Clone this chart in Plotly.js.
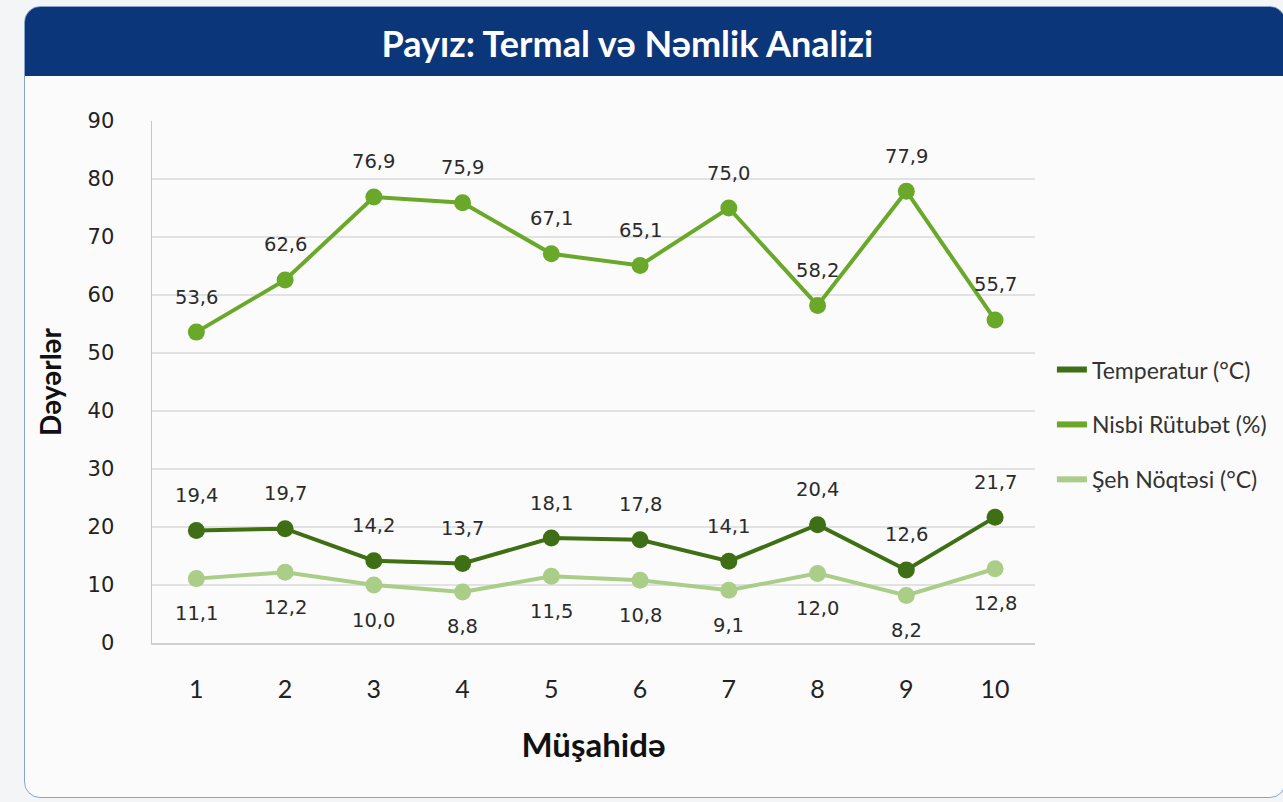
<!DOCTYPE html>
<html>
<head>
<meta charset="utf-8">
<script src="https://cdn.plot.ly/plotly-3.0.1.min.js"></script>
<style>
  html, body { margin:0; padding:0; width:1283px; height:802px; background:#f4f5f7; overflow:hidden; }
  #card { position:absolute; left:24px; top:6px; width:1262px; height:792px; background:#fbfbfb;
          border:1.5px solid #8aa3cc; border-radius:16px; box-sizing:border-box; overflow:hidden; }
  #band { position:absolute; left:0; top:0; width:100%; height:69px; background:#0b3679; }
  #chart { position:absolute; left:0; top:0; width:1283px; height:802px; }
</style>
</head>
<body>
<div id="card"><div id="band"></div></div>
<div id="chart"></div>
<script>
const observations = [1, 2, 3, 4, 5, 6, 7, 8, 9, 10];
const temperature = [19.4, 19.7, 14.2, 13.7, 18.1, 17.8, 14.1, 20.4, 12.6, 21.7];
const humidity    = [53.6, 62.6, 76.9, 75.9, 67.1, 65.1, 75.0, 58.2, 77.9, 55.7];
const dewPoint    = [11.1, 12.2, 10.0, 8.8, 11.5, 10.8, 9.1, 12.0, 8.2, 12.8];
const seriesNames = ['Temperatur (°C)', 'Nisbi Rütubət (%)', 'Şeh Nöqtəsi (°C)'];
const colors = ['#3e6f14', '#6aa829', '#aacd88'];

const fmt = v => v.toFixed(1).replace('.', ',');

function dataTrace(y, color) {
  return { x: observations, y: y, type: 'scatter', mode: 'lines+markers',
           line: { color: color, width: 4 }, marker: { color: color, size: 17 },
           showlegend: false, hoverinfo: 'x+y' };
}
function legendTrace(name, color, i) {
  return { x: [null], y: [null], type: 'scatter', mode: 'lines', name: name,
           legendgroup: 'g' + i, line: { color: color, width: 6 }, showlegend: true };
}

const traces = [
  dataTrace(dewPoint, colors[2]),
  dataTrace(temperature, colors[0]),
  dataTrace(humidity, colors[1]),
  legendTrace(seriesNames[0], colors[0], 0),
  legendTrace(seriesNames[1], colors[1], 1),
  legendTrace(seriesNames[2], colors[2], 2)
];

const labelFont = { family: 'DejaVu Sans', size: 19.5, color: '#2b2b2b' };
const annotations = [];
function addLabels(y, shift) {
  observations.forEach((xv, i) => {
    annotations.push({ x: xv, y: y[i], xref: 'x', yref: 'y', text: fmt(y[i]),
                       showarrow: false, yshift: shift, font: labelFont });
  });
}
addLabels(humidity, 35);
addLabels(temperature, 35);
addLabels(dewPoint, -35);

const layout = {
  width: 1283, height: 802,
  paper_bgcolor: 'rgba(0,0,0,0)', plot_bgcolor: 'rgba(0,0,0,0)',
  margin: { l: 152, r: 247, t: 121, b: 159 },
  title: { text: '<b>Payız: Termal və Nəmlik Analizi</b>', x: 0.489, xanchor: 'center',
           y: 0.945, yanchor: 'middle', yref: 'container',
           font: { family: 'Lato', size: 36, color: '#ffffff' } },
  xaxis: {
    range: [0.5, 10.45], tickvals: observations, ticktext: observations.map(String),
    showgrid: false, zeroline: false, showline: true, linecolor: '#d0d0d0', linewidth: 1.5,
    ticks: '', ticklabelstandoff: 23,
    tickfont: { family: 'Lato', size: 25, color: '#222' },
    title: { text: '<b>Müşahidə</b>', standoff: 32, font: { family: 'Lato', size: 33, color: '#111' } }
  },
  yaxis: {
    range: [0, 90], dtick: 10, showgrid: true, gridcolor: '#e2e2e2', gridwidth: 1.2,
    zeroline: false, showline: true, linecolor: '#c6c6c6', linewidth: 1.5,
    ticks: '', ticklabelstandoff: 32,
    tickfont: { family: 'DejaVu Sans', size: 21, color: '#222' },
    title: { text: '<b>Dəyərlər</b>', standoff: 18, font: { family: 'Lato', size: 28, color: '#111' } }
  },
  legend: { x: 1.018, xanchor: 'left', y: 0.565, yanchor: 'top', traceorder: 'grouped',
            tracegroupgap: 22, bgcolor: 'rgba(0,0,0,0)',
            font: { family: 'Lato', size: 23, color: '#333' } },
  annotations: annotations,
  showlegend: true
};

Plotly.newPlot('chart', traces, layout, { displayModeBar: false, staticPlot: true });
</script>
</body>
</html>
